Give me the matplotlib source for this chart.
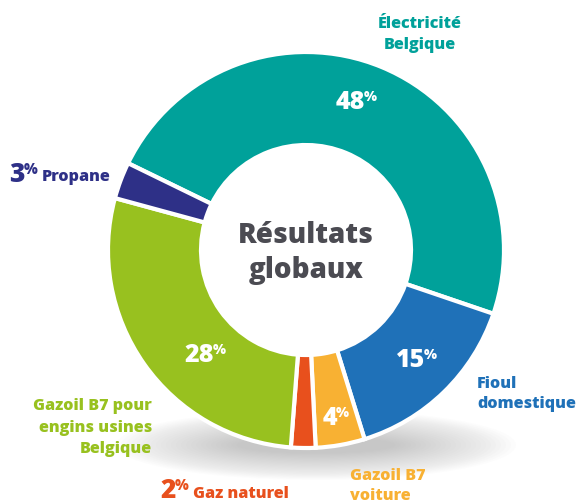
import numpy as np
import matplotlib.pyplot as plt
from matplotlib.patches import Ellipse

plt.rcParams['font.family'] = ['Open Sans', 'DejaVu Sans']

# parts, dans l'ordre horaire depuis le haut-gauche
labels = ['Électricité\nBelgique', 'Fioul\ndomestique', 'Gazoil B7\nvoiture',
          'Gaz naturel', 'Gazoil B7 pour\nengins usines\nBelgique', 'Propane']
parts = [48, 15, 4, 2, 28, 3]
colors = ['#00a19a', '#1f71b8', '#f8b133', '#e8501d', '#98c11f', '#2e3087']

fig = plt.figure(figsize=(5.78, 5.01), dpi=100)
ax = fig.add_axes([0, 0, 1, 1])

cx, cy, R = 306, 251, 198

# ombre douce sous l'anneau
for i in range(25):
    e = Ellipse((cx + 10, cy - 195), 400 - i * 10, 70 - i * 2.2,
                color='#9a9a9a', alpha=0.025, lw=0, zorder=0)
    ax.add_patch(e)

ax.pie(parts, colors=colors, startangle=154, counterclock=False,
       center=(cx, cy), radius=R, frame=True,
       wedgeprops=dict(width=93, edgecolor='white', linewidth=3))
ax.set_xlim(0, 578)
ax.set_ylim(0, 501)
ax.set_aspect('equal')
ax.axis('off')

W = 'heavy'

def Y(py):
    return 501 - py

def pct(xr, yb, n, col, size=18):
    # nombre aligné à droite sur xr, ligne de base yb, % en exposant
    ax.text(xr, Y(yb), str(n), color=col, fontsize=size, fontweight=W,
            ha='right', va='baseline')
    ax.text(xr - 1, Y(yb) + size * 1.0 + 1, '%', color=col, fontsize=size * 0.55,
            fontweight=W, ha='left', va='top')

def lines(x, yb, txt, col, ha, step=20.5, size=11.6):
    for k, s in enumerate(txt.split('\n')):
        ax.text(x, Y(yb + k * step), s, color=col, fontsize=size,
                fontweight=W, ha=ha, va='baseline')

lines(cx, 243, 'Résultats\nglobaux', '#4b4b52', 'center', step=35, size=20)

# valeurs dans l'anneau
pct(365, 109, 48, 'white')
pct(425, 367, 15, 'white')
pct(214, 362, 28, 'white')
pct(337, 425, 4, 'white')

# étiquettes extérieures
lines(420, 28, labels[0], colors[0], 'center')
lines(477, 388, labels[1], colors[1], 'left')
lines(350, 480, labels[2], colors[2], 'left')
pct(176, 498, 2, colors[3], size=19)
lines(193, 498, labels[3], colors[3], 'left')
lines(152, 410, labels[4], colors[4], 'right', step=21.5)
pct(25, 182, 3, colors[5], size=19)
lines(42, 181, labels[5], colors[5], 'left')

plt.savefig('out.png', dpi=100)
